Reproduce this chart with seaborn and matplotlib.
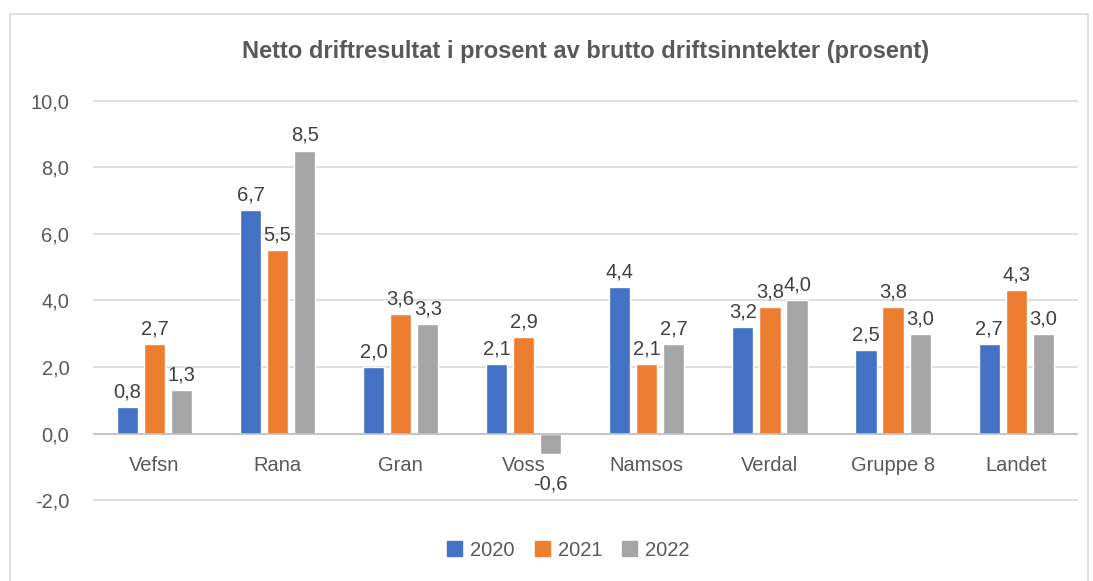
import matplotlib
matplotlib.use('Agg')
import matplotlib.pyplot as plt
import matplotlib.patches as mpatches
import seaborn as sns
import pandas as pd

kommuner = ['Vefsn', 'Rana', 'Gran', 'Voss', 'Namsos', 'Verdal', 'Gruppe 8', 'Landet']
aar = ['2020', '2021', '2022']
v2020 = [0.8, 6.7, 2.0, 2.1, 4.4, 3.2, 2.5, 2.7]
v2021 = [2.7, 5.5, 3.6, 2.9, 2.1, 3.8, 3.8, 4.3]
v2022 = [1.3, 8.5, 3.3, -0.6, 2.7, 4.0, 3.0, 3.0]
farger = ['#4472C4', '#ED7D31', '#A5A5A5']
yticks = [-2, 0, 2, 4, 6, 8, 10]

df = pd.DataFrame({
    'kommune': kommuner * 3,
    'aar': [a for a in aar for _ in kommuner],
    'verdi': v2020 + v2021 + v2022,
})

sns.set_style('white')
plt.rcParams['font.family'] = ['Liberation Sans', 'DejaVu Sans']
tekst = '#595959'
fs = 14.5

fig = plt.figure(figsize=(10.93, 5.81), dpi=100)
ax = fig.add_axes([0.085, 0.138, 0.901, 0.69])

sns.barplot(data=df, x='kommune', y='verdi', hue='aar', palette=farger,
            saturation=1, width=0.66, gap=0.22, ax=ax, legend=False)

ax.set_ylim(-2.02, 10.02)
ax.set_yticks(yticks)
ax.set_yticklabels([f'{t:.1f}'.replace('.', ',') for t in yticks], fontsize=fs, color=tekst)
ax.tick_params(axis='x', labelsize=fs, labelcolor=tekst, length=0, pad=16)
ax.tick_params(axis='y', length=0, pad=17)
ax.set_xlabel('')
ax.set_ylabel('')
ax.grid(axis='y', color='#D9D9D9', linewidth=1.2)
ax.set_axisbelow(True)
for s in ax.spines.values():
    s.set_visible(False)
# kategorinavn rett under nullinjen, som i Excel
ax.spines['bottom'].set_position(('data', 0))
ax.axhline(0, color='#BFBFBF', linewidth=1.2, zorder=1)

for cont in ax.containers:
    for bar in cont:
        h = bar.get_height()
        x = bar.get_x() + bar.get_width() / 2
        lbl = f'{h:.1f}'.replace('.', ',')
        if h >= 0:
            ax.annotate(lbl, (x, h), xytext=(0, 4), textcoords='offset points',
                        ha='center', va='bottom', fontsize=fs, color='#404040')
        else:
            ax.annotate(lbl, (x, h), xytext=(0, -15), textcoords='offset points',
                        ha='center', va='top', fontsize=fs, color='#404040')

ax.set_title('Netto driftresultat i prosent av brutto driftsinntekter (prosent)',
             fontsize=17, fontweight='bold', color=tekst, pad=30)

handles = [mpatches.Patch(color=c) for c in farger]
fig.legend(handles, aar, loc='center', bbox_to_anchor=(0.52, 1 - 550 / 581), ncol=3,
           frameon=False, fontsize=fs, handlelength=0.75, handleheight=0.75,
           columnspacing=1.0, handletextpad=0.4, labelcolor=tekst)

fig.patches.append(mpatches.Rectangle((10 / 1093, -0.05), 1078 / 1093, 1 - 14 / 581 + 0.05,
                                      transform=fig.transFigure, fill=False,
                                      edgecolor='#D9D9D9', linewidth=1.2))

fig.savefig('out.png', dpi=100)
